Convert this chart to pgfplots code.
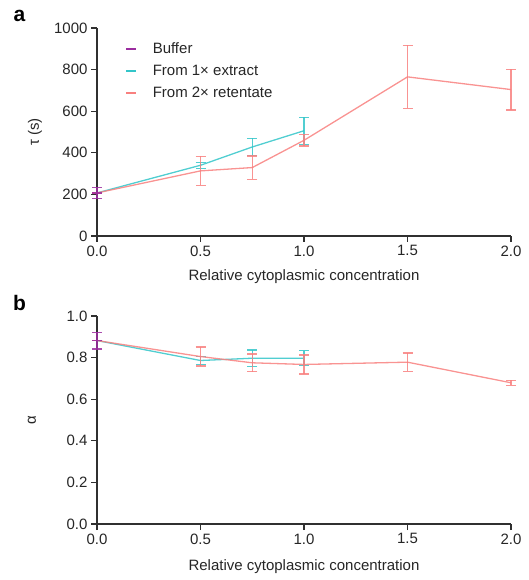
\documentclass[border=0pt]{standalone}
\usepackage{fontspec}
\setmainfont{Liberation Sans}
\usepackage{pgfplots}
\pgfplotsset{compat=1.18}
\definecolor{cbuf}{HTML}{9B2D9F}
\definecolor{cext}{HTML}{33C5C9}
\definecolor{cret}{HTML}{F8807F}
\definecolor{axgray}{HTML}{303030}
\pgfplotsset{
  panel/.style={
    scale only axis, width=414pt, height=208pt, anchor=south west,
    xmin=0, xmax=2, ymin=0, clip=false,
    axis x line*=bottom, axis y line*=left,
    axis line style={axgray, line width=1.1pt},
    tick style={axgray, line width=1.1pt}, tick align=outside, major tick length=6pt,
    xtick={0,0.5,1,1.5,2},
    xticklabel style={/pgf/number format/.cd, fixed, fixed zerofill, precision=1},
    /pgf/number format/assume math mode=true,
    /pgf/number format/1000 sep={},
    tick label style={font=\fontsize{15}{18}\selectfont, text=black!85},
    xlabel={Relative cytoplasmic concentration},
  },
  ser/.style={line width=1.3pt, #1, mark=none, opacity=0.85,
    error bars/y dir=both, error bars/y explicit,
    error bars/error bar style={line width=1.3pt, #1},
    error bars/error mark options={rotate=90, line width=1.3pt, #1, mark size=5pt}},
}
\begin{document}
\begin{tikzpicture}
\useasboundingbox (0,0) rectangle (528pt,580pt);
% panel a
\begin{axis}[panel, at={(97pt,344pt)}, ymax=1000, ytick={0,200,...,1000},
  ylabel={τ (s)},
  every axis y label/.style={at={(axis description cs:-0.15,0.5)}, rotate=90, anchor=center,
    font=\fontsize{15}{18}\selectfont, text=black!85},
  every axis x label/.style={at={(axis description cs:0.5,-0.197)}, anchor=center,
    font=\fontsize{15}{18}\selectfont, text=black!85},
  legend style={draw=none, fill=none, at={(axis description cs:0.068,0.935)}, anchor=north west,
    inner sep=0pt, font=\fontsize{15}{18}\selectfont, row sep=8pt,
    nodes={inner sep=1pt, text=black!85}},
  legend cell align=left,
  legend image code/.code={\draw[line width=1.4pt, #1] (0pt,0pt) -- (10pt,0pt);},
  /tikz/every odd column/.append style={column sep=15pt}]
\addlegendimage{draw=cbuf}
\addlegendentry{Buffer}
\addlegendimage{draw=cext}
\addlegendentry{From 1× extract}
\addlegendimage{draw=cret}
\addlegendentry{From 2× retentate}
\addplot[ser=cext, forget plot] coordinates {
  (0,207) +- (0,0)
  (0.5,340) +- (0,14)
  (0.75,428) +- (0,42)
  (1.0,506) +- (0,65)
};
\addplot[ser=cret, forget plot] coordinates {
  (0,207) +- (0,0)
  (0.5,313) +- (0,70)
  (0.75,329) +- (0,56)
  (1.0,460) +- (0,27)
  (1.5,765) +- (0,152)
  (2.0,704) +- (0,98)
};
\addplot[ser=cbuf, mark=-, mark size=5pt, mark options={line width=1.3pt}, forget plot] coordinates {
  (0,207) +- (0,27)
};
\end{axis}
% panel b
\begin{axis}[panel, at={(97pt,56pt)}, ymax=1, ytick={0,0.2,...,1.0},
  yticklabel style={/pgf/number format/.cd, fixed, fixed zerofill, precision=1},
  ylabel={α},
  every axis y label/.style={at={(axis description cs:-0.157,0.5)}, rotate=90, anchor=center,
    font=\fontsize{15}{18}\selectfont, text=black!85},
  every axis x label/.style={at={(axis description cs:0.5,-0.207)}, anchor=center,
    font=\fontsize{15}{18}\selectfont, text=black!85}]
\addplot[ser=cext] coordinates {
  (0,0.882) +- (0,0)
  (0.5,0.786) +- (0,0.02)
  (0.75,0.797) +- (0,0.04)
  (1.0,0.797) +- (0,0.036)
};
\addplot[ser=cret] coordinates {
  (0,0.882) +- (0,0)
  (0.5,0.805) +- (0,0.046)
  (0.75,0.775) +- (0,0.042)
  (1.0,0.767) +- (0,0.046)
  (1.5,0.778) +- (0,0.044)
  (2.0,0.679) +- (0,0.012)
};
\addplot[ser=cbuf, mark=-, mark size=5pt, mark options={line width=1.3pt}] coordinates {
  (0,0.882) +- (0,0.04)
};
\end{axis}
\node[font=\bfseries\fontsize{21}{24}\selectfont] at (19.5pt,564pt) {a};
\node[font=\bfseries\fontsize{21}{24}\selectfont] at (19.5pt,277pt) {b};
\end{tikzpicture}
\end{document}
